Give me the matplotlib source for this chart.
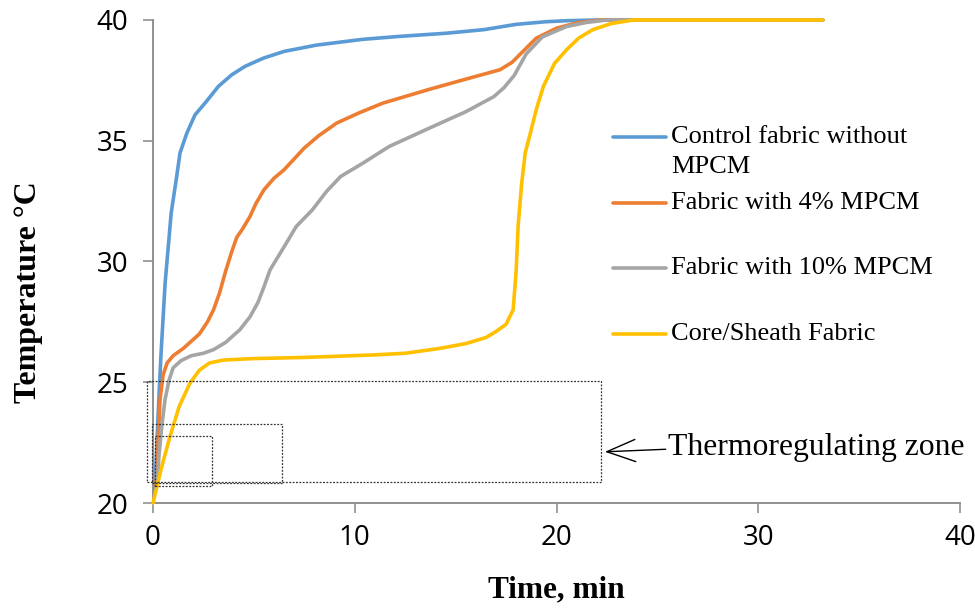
import matplotlib
matplotlib.use("Agg")
import matplotlib.pyplot as plt
from matplotlib.patches import Rectangle
from matplotlib.lines import Line2D

# ---- data ----
series_names = ["Control fabric without\nMPCM", "Fabric with 4% MPCM",
                "Fabric with 10% MPCM", "Core/Sheath Fabric"]
series_colors = ["#5B9BD5", "#ED7D31", "#A5A5A5", "#FFC000"]

t_control = [0.1, 0.2, 0.3, 0.4, 0.6, 0.9, 1.17, 1.34, 1.67, 2.08, 2.58, 3.24, 3.9,
             4.56, 5.47, 6.5, 8.1, 10.4, 12.2, 14.5, 16.4, 18.0, 19.5, 20.5, 22, 25, 33.2]
T_control = [20.6, 22.6, 24.5, 26.2, 29.1, 32.0, 33.5, 34.5, 35.3, 36.07, 36.56, 37.25,
             37.73, 38.08, 38.42, 38.7, 38.96, 39.2, 39.32, 39.45, 39.6, 39.82, 39.93,
             39.97, 40, 40, 40]

t_4 = [0.15, 0.25, 0.35, 0.5, 0.7, 1.0, 1.5, 2.3, 2.7, 3.0, 3.3, 3.6, 3.9, 4.15, 4.4,
       4.8, 5.1, 5.5, 6.0, 6.5, 7.5, 8.2, 9.1, 10.2, 11.4, 13.7, 15.5, 17.2, 17.8, 18.4,
       19.0, 20.0, 21.0, 22.2, 25, 33.2]
T_4 = [20.7, 22.5, 24.3, 25.3, 25.8, 26.1, 26.4, 27.0, 27.5, 28.0, 28.7, 29.6, 30.4,
       31.0, 31.3, 31.85, 32.4, 32.97, 33.45, 33.8, 34.7, 35.2, 35.73, 36.15, 36.56,
       37.13, 37.55, 37.94, 38.25, 38.75, 39.25, 39.66, 39.88, 40.0, 40, 40]

t_10 = [0.2, 0.3, 0.45, 0.6, 0.8, 1.0, 1.4, 1.9, 2.5, 3.0, 3.6, 4.3, 4.8, 5.2, 5.5, 5.8,
        6.2, 6.6, 7.1, 7.9, 8.6, 9.3, 10.4, 11.7, 13.9, 15.5, 16.9, 17.4, 17.9, 18.5,
        19.3, 20.5, 21.5, 22.5, 25, 33.2]
T_10 = [20.7, 22.0, 23.3, 24.3, 25.1, 25.6, 25.9, 26.1, 26.2, 26.35, 26.65, 27.17, 27.7,
        28.3, 28.95, 29.65, 30.2, 30.75, 31.45, 32.14, 32.9, 33.52, 34.07, 34.76, 35.6,
        36.2, 36.83, 37.2, 37.7, 38.6, 39.3, 39.73, 39.9, 40.0, 40, 40]

t_core = [0, 0.4, 0.84, 1.3, 1.83, 2.3, 2.8, 3.5, 5, 7.6, 10.9, 12.5, 14.2, 15.5, 16.5,
          17.0, 17.5, 17.85, 18.0, 18.1, 18.27, 18.45, 18.7, 19.0, 19.35, 19.9, 20.5,
          21.1, 21.8, 22.7, 23.8, 25, 33.2]
T_core = [20.0, 21.4, 22.75, 24.0, 24.96, 25.5, 25.8, 25.92, 25.98, 26.03, 26.13, 26.2,
          26.4, 26.6, 26.85, 27.1, 27.4, 28.0, 29.6, 31.5, 33.2, 34.5, 35.3, 36.3, 37.25,
          38.2, 38.77, 39.25, 39.6, 39.85, 40, 40, 40]

# dotted "zone" rectangles: (x0, y0, x1, y1) in data units
zone_boxes = [(-0.3, 20.88, 22.2, 25.05),
              (-0.06, 20.82, 6.4, 23.27),
              (0.1, 20.7, 2.92, 22.78)]

x_ticks = [0, 10, 20, 30, 40]
y_ticks = [20, 25, 30, 35, 40]

# ---- figure ----
fig = plt.figure(figsize=(9.75, 6.08), dpi=100)
ax = fig.add_axes([153/975, 1-503/608, (960-153)/975, (503-20)/608])

series = [(t_control, T_control), (t_4, T_4), (t_10, T_10), (t_core, T_core)]
for (t, T), c in zip(series, series_colors):
    ax.plot(t, T, color=c, lw=2.6, solid_capstyle="round", solid_joinstyle="round",
            clip_on=False, zorder=3)

for (x0, y0, x1, y1) in zone_boxes:
    ax.add_patch(Rectangle((x0, y0), x1-x0, y1-y0, fill=False, ec="#333333",
                           lw=0.9, ls=(0, (1.5, 1.2)), clip_on=False, zorder=4))

ax.set_xlim(0, 40)
ax.set_ylim(20, 40)
ax.set_xticks(x_ticks)
ax.set_yticks(y_ticks)

for s in ["top", "right"]:
    ax.spines[s].set_visible(False)
for s in ["left", "bottom"]:
    ax.spines[s].set_color("#888888")
    ax.spines[s].set_linewidth(1.3)
ax.tick_params(axis="both", direction="out", length=7, width=1.1, color="#888888",
               labelsize=20, labelcolor="black")
ax.tick_params(axis="x", pad=8)
ax.tick_params(axis="y", pad=11)
for lab in ax.get_xticklabels() + ax.get_yticklabels():
    lab.set_fontfamily("Open Sans")

ax.set_xlabel("Time, min", family="Liberation Serif", fontweight="bold", fontsize=22.5)
ax.set_ylabel("Temperature °C", family="Liberation Serif", fontweight="bold", fontsize=23)
ax.xaxis.set_label_coords((556-153)/(960-153), -(590-503)/(503-20))
ax.yaxis.set_label_coords(-(153-29)/(960-153), (503-292)/(503-20))
ax.xaxis.label.set_va("center")
ax.yaxis.label.set_va("center")

# legend (manual layout to mimic the original)
leg_y = [35.16, 32.43, 29.73, 27.0]
for name, c, y in zip(series_names, series_colors, leg_y):
    ax.add_line(Line2D([22.8, 25.45], [y, y], color=c, lw=2.6, solid_capstyle="round"))
    lines = name.split("\n")
    for i, ln in enumerate(lines):
        ax.text(25.7, y - 1.24 * i, ln, family="Liberation Serif", fontsize=19,
                va="center", ha="left")

ax.annotate("Thermoregulating zone", xy=(22.4, 22.12), xytext=(25.55, 22.3),
            family="Liberation Serif", fontsize=22.8, ha="left", va="center",
            arrowprops=dict(arrowstyle="->,head_length=0.9,head_width=0.35", color="black",
                            lw=1.0, shrinkA=0, shrinkB=0, relpos=(0.02, 0.45)))

fig.savefig("out.png", dpi=100)
